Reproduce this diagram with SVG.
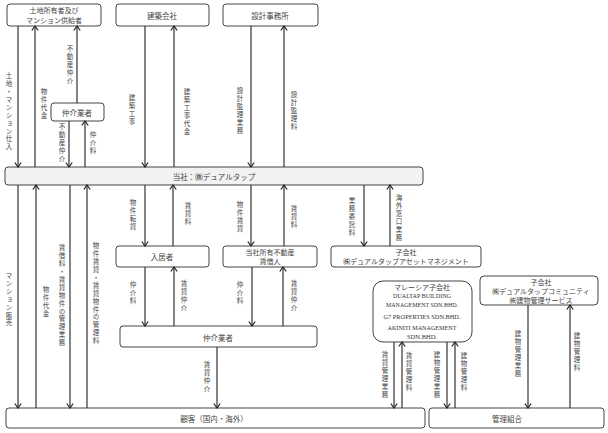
<svg xmlns="http://www.w3.org/2000/svg" width="608" height="433" viewBox="0 0 608 433">
<style>
.box{fill:#fff;stroke:#444;stroke-width:1}
.bar{fill:#f2f2f2;stroke:#444;stroke-width:1}
.t{font-family:"Noto Sans CJK JP","Noto Sans",sans-serif;font-size:7.5px;fill:#444;text-anchor:middle;dominant-baseline:central}
.s{font-size:7px}
.e{font-family:"Liberation Serif",serif;font-size:7px;fill:#333;text-anchor:middle;dominant-baseline:central}
.v{font-family:"Noto Sans CJK JP",sans-serif;font-size:6.5px;fill:#444;text-anchor:middle;writing-mode:vertical-rl;letter-spacing:1.4px}
.c line{stroke:#333;stroke-width:1.2;marker-end:url(#ah)}
</style>
<defs>
<marker id="ah" markerUnits="userSpaceOnUse" markerWidth="10" markerHeight="10" refX="0" refY="0" viewBox="-6 -5 7 10" orient="auto">
<path d="M-4.5,-3.2 L0,0 L-4.5,3.2" fill="none" stroke="#222" stroke-width="1.2"/>
</marker>
</defs>

<g id="owner"><rect class="box" x="7" y="4" width="94" height="22" rx="3"/><text class="t s" x="54" y="10">土地所有者及び</text><text class="t s" x="54" y="19.5">マンション供給者</text></g>
<g id="kenchiku"><rect class="box" x="116" y="4" width="93" height="22" rx="3"/><text class="t" x="162" y="15">建築会社</text></g>
<g id="sekkei"><rect class="box" x="223" y="4" width="95" height="22" rx="3"/><text class="t" x="270" y="15">設計事務所</text></g>
<g id="broker1"><rect class="box" x="51" y="103" width="53" height="18" rx="3"/><text class="t" x="77" y="112">仲介業者</text></g>
<g id="company"><rect class="bar" x="5" y="167" width="418" height="18" rx="3"/><text class="t" x="214" y="176">当社：㈱デュアルタップ</text></g>
<g id="tenant"><rect class="box" x="116" y="246" width="93" height="21" rx="3"/><text class="t" x="162" y="256.5">入居者</text></g>
<g id="lessee"><rect class="box" x="223" y="246" width="94" height="21" rx="3"/><text class="t s" x="270" y="251.5">当社所有不動産</text><text class="t s" x="270" y="261">賃借人</text></g>
<g id="asset"><rect class="box" x="331" y="246" width="150" height="21" rx="3"/><text class="t s" x="406" y="251.5">子会社</text><text class="t s" x="406" y="261">㈱デュアルタップアセットマネジメント</text></g>
<g id="malaysia"><rect class="box" x="373" y="281" width="99" height="61" rx="10"/>
<text class="t s" x="422" y="287">マレーシア子会社</text>
<text class="e" x="422" y="295.5" textLength="58" lengthAdjust="spacingAndGlyphs">DUALTAP BUILDING</text>
<text class="e" x="422" y="304.5" textLength="72" lengthAdjust="spacingAndGlyphs">MANAGEMENT SDN.BHD.</text>
<text class="e" x="422" y="317" textLength="77" lengthAdjust="spacingAndGlyphs">G7 PROPERTIES SDN.BHD.</text>
<text class="e" x="422" y="328" textLength="69" lengthAdjust="spacingAndGlyphs">AKINITI MANAGEMENT</text>
<text class="e" x="422" y="336.5" textLength="30" lengthAdjust="spacingAndGlyphs">SDN.BHD.</text></g>
<g id="community"><rect class="box" x="480" y="276" width="118" height="29" rx="4"/><text class="t s" x="541" y="282">子会社</text><text class="t s" x="541" y="291">㈱デュアルタップコミュニティ</text><text class="t s" x="541" y="300">㈱建物管理サービス</text></g>
<g id="broker2"><rect class="box" x="120" y="326" width="197" height="21" rx="3"/><text class="t" x="218" y="337">仲介業者</text></g>
<g id="customer"><rect class="box" x="6" y="408" width="419" height="20" rx="3"/><text class="t" x="214" y="418">顧客（国内・海外）</text></g>
<g id="kanri"><rect class="box" x="429" y="408" width="175" height="20" rx="3"/><text class="t" x="507" y="418">管理組合</text></g>

<g class="c" id="connectors">
<line x1="18" y1="26" x2="18" y2="167"/>
<line x1="35" y1="167" x2="35" y2="26"/>
<line x1="77" y1="103" x2="77" y2="26"/>
<line x1="69" y1="121" x2="69" y2="167"/>
<line x1="85" y1="167" x2="85" y2="121"/>
<line x1="145" y1="26" x2="145" y2="167"/>
<line x1="174" y1="167" x2="174" y2="26"/>
<line x1="251" y1="26" x2="251" y2="167"/>
<line x1="284" y1="167" x2="284" y2="26"/>
<line x1="18" y1="185" x2="18" y2="408"/>
<line x1="36" y1="408" x2="36" y2="185"/>
<line x1="70" y1="185" x2="70" y2="408"/>
<line x1="87" y1="408" x2="87" y2="185"/>
<line x1="145" y1="185" x2="145" y2="246"/>
<line x1="173" y1="246" x2="173" y2="185"/>
<line x1="251" y1="185" x2="251" y2="246"/>
<line x1="284" y1="246" x2="284" y2="185"/>
<line x1="364" y1="185" x2="364" y2="246"/>
<line x1="390" y1="246" x2="390" y2="185"/>
<line x1="145" y1="267" x2="145" y2="326"/>
<line x1="174" y1="326" x2="174" y2="267"/>
<line x1="252" y1="267" x2="252" y2="326"/>
<line x1="283" y1="326" x2="283" y2="267"/>
<line x1="217" y1="347" x2="217" y2="408"/>
<line x1="394" y1="342" x2="394" y2="408"/>
<line x1="402" y1="408" x2="402" y2="342"/>
<line x1="447" y1="342" x2="447" y2="408"/>
<line x1="455" y1="408" x2="455" y2="342"/>
<line x1="528" y1="305" x2="528" y2="408"/>
<line x1="570" y1="408" x2="570" y2="305"/>
</g>

<g id="labels">
<text class="v" x="9" y="112">土地・マンション仕入</text>
<text class="v" x="44" y="104">物件代金</text>
<text class="v" x="70" y="65">不動産仲介</text>
<text class="v" x="62" y="143">不動産仲介</text>
<text class="v" x="93" y="143">仲介料</text>
<text class="v" x="132" y="110">建築工事</text>
<text class="v" x="187" y="112">建築工事代金</text>
<text class="v" x="240" y="111">設計監理業務</text>
<text class="v" x="294" y="111">設計監理料</text>
<text class="v" x="9" y="300">マンション販売</text>
<text class="v" x="46" y="302">物件代金</text>
<text class="v" x="62" y="296">賃借料・賃貸物件の管理業務</text>
<text class="v" x="96" y="294">物件賃貸・賃貸物件の管理料</text>
<text class="v" x="133" y="215">物件転貸</text>
<text class="v" x="188" y="214">賃貸料</text>
<text class="v" x="240" y="217">物件賃貸</text>
<text class="v" x="294" y="217">賃貸料</text>
<text class="v" x="352" y="217">業務委託料</text>
<text class="v" x="399" y="218">海外窓口業務</text>
<text class="v" x="133" y="293">仲介料</text>
<text class="v" x="184" y="296">賃貸仲介</text>
<text class="v" x="240" y="293">仲介料</text>
<text class="v" x="294" y="296">賃貸仲介</text>
<text class="v" x="207" y="377">賃貸仲介</text>
<text class="v" x="385" y="375">賃貸管理業務</text>
<text class="v" x="409" y="372">賃貸管理料</text>
<text class="v" x="437" y="375">建物管理業務</text>
<text class="v" x="464" y="372">建物管理料</text>
<text class="v" x="518" y="354">建物管理業務</text>
<text class="v" x="577" y="352">建物管理料</text>
</g>
</svg>
